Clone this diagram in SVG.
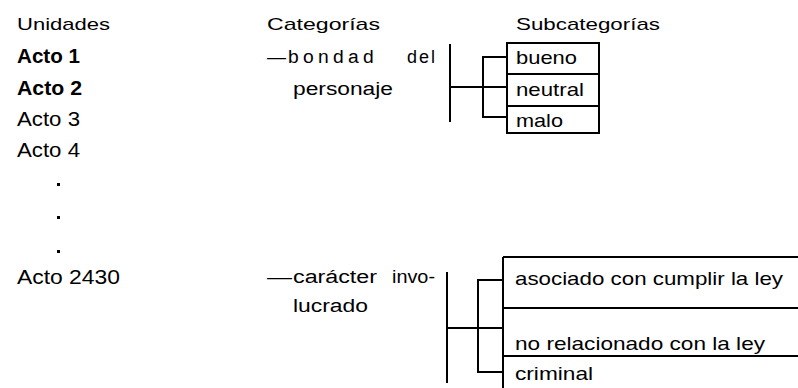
<svg xmlns="http://www.w3.org/2000/svg" width="798" height="388" viewBox="0 0 798 388">
<style>
  text { font-family: "Liberation Sans", Arial, sans-serif; fill: #000; }
  .hd { font-size: 17px; }
  .u { font-size: 21px; }
  .ub { font-size: 21px; font-weight: bold; }
  .c { font-size: 18px; }
  .s { font-size: 19px; }
  .ln { stroke: #000; fill: none; stroke-width: 2; }
  .dot { fill: #000; }
</style>
<rect width="798" height="388" fill="#fff"/>
<g id="headers">
  <text class="hd" x="17" y="30" textLength="93" lengthAdjust="spacingAndGlyphs">Unidades</text>
  <text class="hd" x="267" y="30" textLength="113" lengthAdjust="spacingAndGlyphs">Categorías</text>
  <text class="hd" x="516" y="30" textLength="144" lengthAdjust="spacingAndGlyphs">Subcategorías</text>
</g>
<g id="units">
  <g id="acto1"><text class="ub" x="17" y="63" textLength="63" lengthAdjust="spacingAndGlyphs">Acto 1</text></g>
  <g id="acto2"><text class="ub" x="17" y="95" textLength="65" lengthAdjust="spacingAndGlyphs">Acto 2</text></g>
  <g id="acto3"><text class="u" x="17" y="126" textLength="63" lengthAdjust="spacingAndGlyphs">Acto 3</text></g>
  <g id="acto4"><text class="u" x="17" y="157" textLength="63" lengthAdjust="spacingAndGlyphs">Acto 4</text></g>
  <g id="ellipsis">
    <rect class="dot" x="57" y="183" width="3" height="3"/>
    <rect class="dot" x="57" y="216" width="3" height="3"/>
    <rect class="dot" x="57" y="250" width="3" height="3"/>
  </g>
  <g id="acto2430"><text class="u" x="17" y="284" textLength="103" lengthAdjust="spacingAndGlyphs">Acto 2430</text></g>
</g>
<g id="cat-bondad">
  <text class="c" x="267" y="63" textLength="19" lengthAdjust="spacingAndGlyphs">—</text>
  <text class="c" x="288" y="63" textLength="90" lengthAdjust="spacingAndGlyphs" letter-spacing="4">bondad</text>
  <text class="c" x="407" y="63" textLength="30" lengthAdjust="spacingAndGlyphs" letter-spacing="2">del</text>
  <text class="c" x="293" y="95" textLength="100" lengthAdjust="spacingAndGlyphs">personaje</text>
</g>
<g id="cat-caracter">
  <text class="c" x="267" y="283" textLength="25" lengthAdjust="spacingAndGlyphs">—</text>
  <text class="c" x="293" y="283" textLength="84" lengthAdjust="spacingAndGlyphs">carácter</text>
  <text class="c" x="392" y="283" textLength="43" lengthAdjust="spacingAndGlyphs">invo-</text>
  <text class="c" x="293" y="312" textLength="75" lengthAdjust="spacingAndGlyphs">lucrado</text>
</g>
<g id="sub-bondad">
  <rect class="ln" x="507" y="43" width="92" height="90"/>
  <line class="ln" x1="507" y1="74" x2="599" y2="74"/>
  <line class="ln" x1="507" y1="106" x2="599" y2="106"/>
  <text class="s" x="516" y="64" textLength="61" lengthAdjust="spacingAndGlyphs">bueno</text>
  <text class="s" x="516" y="96" textLength="68" lengthAdjust="spacingAndGlyphs">neutral</text>
  <text class="s" x="516" y="127" textLength="47" lengthAdjust="spacingAndGlyphs">malo</text>
</g>
<g id="sub-caracter">
  <line class="ln" x1="503" y1="257" x2="503" y2="388"/>
  <line class="ln" x1="503" y1="257" x2="798" y2="257"/>
  <line class="ln" x1="503" y1="308" x2="798" y2="308"/>
  <line class="ln" x1="503" y1="356" x2="798" y2="356"/>
  <text class="s" x="515" y="285" textLength="268" lengthAdjust="spacingAndGlyphs">asociado con cumplir la ley</text>
  <text class="s" x="515" y="350" textLength="250" lengthAdjust="spacingAndGlyphs">no relacionado con la ley</text>
  <text class="s" x="515" y="380" textLength="78" lengthAdjust="spacingAndGlyphs">criminal</text>
</g>
<g id="connectors">
  <line class="ln" x1="450" y1="44" x2="450" y2="122" stroke-width="4"/>
  <line class="ln" x1="450" y1="87" x2="507" y2="87" stroke-width="1.5"/>
  <path class="ln" d="M507,57 H483 V117 H507"/>
  <line class="ln" x1="447" y1="272" x2="447" y2="383"/>
  <line class="ln" x1="447" y1="328" x2="503" y2="328"/>
  <path class="ln" d="M503,280 H478 V372 H503"/>
</g>
</svg>
